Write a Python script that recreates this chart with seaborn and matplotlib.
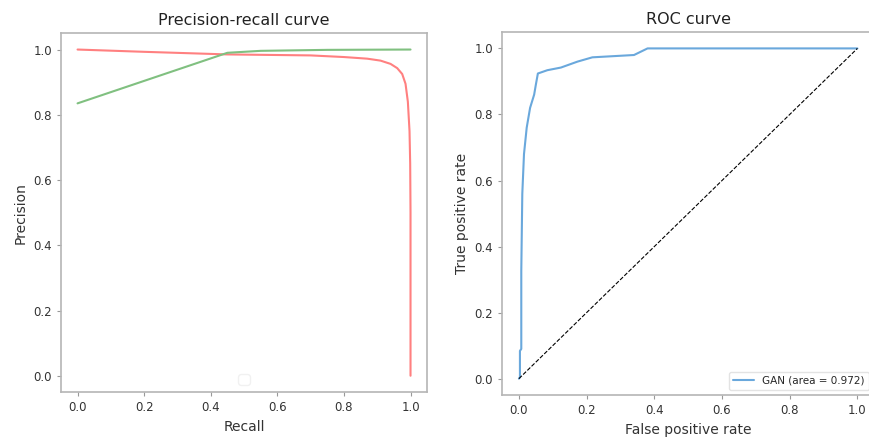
import matplotlib
matplotlib.use("Agg")
import matplotlib.pyplot as plt
import seaborn as sns

# Precision-recall curve (two series)
pr_red_recall = [0.0, 0.2, 0.45, 0.7, 0.8, 0.87, 0.91, 0.94, 0.96, 0.975, 0.985, 0.992,
                 0.997, 0.999, 1.0, 1.0]
pr_red_precision = [1.0, 0.993, 0.985, 0.982, 0.977, 0.972, 0.966, 0.956, 0.943, 0.925,
                    0.895, 0.84, 0.75, 0.65, 0.5, 0.0]
pr_green_recall = [0.0, 0.45, 0.55, 0.75, 1.0]
pr_green_precision = [0.835, 0.99, 0.996, 0.999, 1.0]

# ROC curve
roc_fpr = [0.0, 0.003, 0.003, 0.007, 0.007, 0.01, 0.015, 0.023, 0.033, 0.045, 0.05,
           0.056, 0.084, 0.124, 0.173, 0.217, 0.34, 0.38, 1.0]
roc_tpr = [0.0, 0.004, 0.084, 0.09, 0.326, 0.56, 0.68, 0.76, 0.82, 0.86, 0.89,
           0.924, 0.934, 0.942, 0.96, 0.973, 0.98, 1.0, 1.0]
roc_label = "GAN (area = 0.972)"

ticks = [0.0, 0.2, 0.4, 0.6, 0.8, 1.0]

sns.set_style("ticks")
plt.rcParams['font.family'] = ['DejaVu Sans']

fig = plt.figure(figsize=(8.7, 4.43), dpi=100)
ax1 = fig.add_axes([0.070, 0.115, 0.421, 0.810])
ax2 = fig.add_axes([0.577, 0.108, 0.428, 0.820])

# Precision-recall
sns.lineplot(x=pr_red_recall, y=pr_red_precision, ax=ax1, color="#ff8080",
             estimator=None, sort=False, linewidth=1.5)
sns.lineplot(x=pr_green_recall, y=pr_green_precision, ax=ax1, color="#80c080",
             estimator=None, sort=False, linewidth=1.5)
ax1.set_title("Precision-recall curve", fontsize=11.5, color="#222222")
ax1.set_xlabel("Recall", fontsize=10, color="#333333")
ax1.set_ylabel("Precision", fontsize=10, color="#333333")
ax1.legend(handles=[], loc="lower center", frameon=True, edgecolor="#eeeeee")

# ROC
sns.lineplot(x=roc_fpr, y=roc_tpr, ax=ax2, color="#6aa8dc", estimator=None,
             sort=False, linewidth=1.5, label=roc_label)
ax2.plot([0, 1], [0, 1], "k--", linewidth=0.8)
ax2.set_title("ROC curve", fontsize=11.5, color="#222222")
ax2.set_xlabel("False positive rate", fontsize=10, color="#333333")
ax2.set_ylabel("True positive rate", fontsize=10, color="#333333")
ax2.legend(loc="lower right", fontsize=7.5, frameon=True, edgecolor="#dddddd",
           handlelength=2, borderpad=0.4)

for ax in (ax1, ax2):
    ax.set_xlim(-0.05, 1.05)
    ax.set_ylim(-0.05, 1.05)
    ax.set_xticks(ticks)
    ax.set_yticks(ticks)
    ax.tick_params(labelsize=8.5, colors="#333333", length=3, color="#999999")
    for s in ax.spines.values():
        s.set_visible(True)
        s.set_color("#b5b5b5")
        s.set_linewidth(1.2)

fig.savefig("out.png", dpi=100)
